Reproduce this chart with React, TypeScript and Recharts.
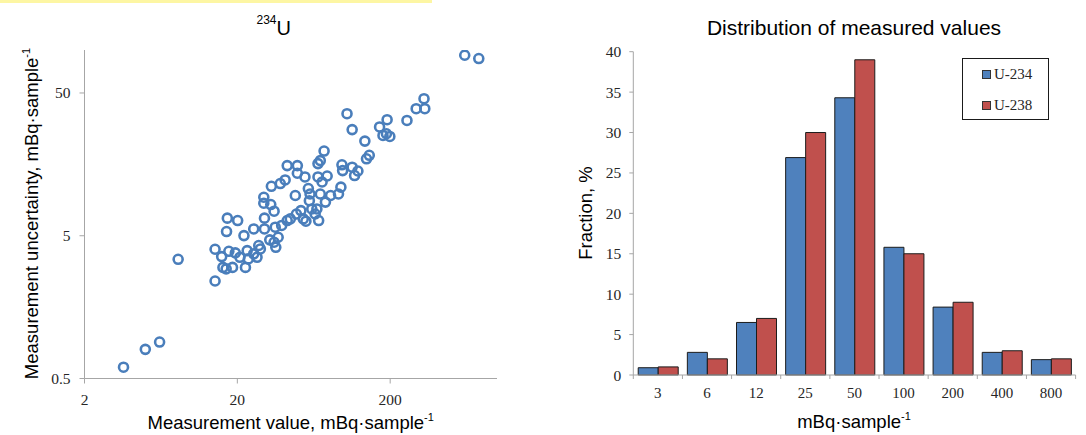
import { ScatterChart, Scatter, XAxis, YAxis, BarChart, Bar, Legend } from 'recharts';

// 234U scatter: measurement value vs. uncertainty (mBq per sample)
const measuredValues = [
  3.6, 5.0, 6.2, 8.2, 14.3, 14.3, 15.8, 16.1, 16.9, 18.6,
  17.6, 19.4, 20.8, 22.6, 23.2, 23.6, 25.6, 27.6, 26.9, 28.3,
  17.0, 17.2, 20.1, 22.1, 25.6, 30.1, 30.1, 29.8, 29.8, 33.1,
  34.8, 33.4, 32.6, 34.8, 35.7, 37.0, 35.4, 39.0, 42.4, 44.4,
  38.2, 41.1, 42.4, 49.4, 49.4, 47.9, 48.7, 54.0, 56.2, 52.1,
  55.4, 58.3, 59.8, 59.2, 61.4, 64.6, 68.1, 67.4, 69.8, 73.9,
  67.4, 71.7, 77.4, 69.8, 75.4, 81.5, 66.3, 91.8, 95.2, 96.7,
  97.7, 112.8, 117, 123, 104.4, 112.8, 136.6, 140, 146, 170.5,
  179.5, 191, 199, 189, 257.6, 296, 333, 337, 615, 760,
];
const uncertainties = [
  0.6, 0.8, 0.9, 3.42, 2.41, 4.02, 3.57, 3.0, 2.93, 3.0,
  3.89, 3.79, 3.53, 3.0, 3.93, 3.44, 3.73, 4.27, 3.53, 4.04,
  5.35, 6.64, 6.39, 5.01, 5.58, 6.64, 5.58, 9.3, 8.45, 8.27,
  7.43, 11.1, 4.68, 4.5, 4.15, 4.88, 5.74, 5.9, 6.39, 6.56,
  11.6, 12.3, 15.5, 15.5, 13.7, 9.57, 7.1, 6.56, 6.32, 7.5,
  12.9, 10.7, 9.8, 8.8, 7.7, 7.1, 6.39, 16.0, 16.8, 19.6,
  12.9, 11.9, 13.1, 9.8, 8.6, 9.57, 7.7, 9.8, 10.95, 15.7,
  14.3, 15.1, 13.2, 14.2, 35.8, 27.7, 23.0, 17.3, 18.3, 28.9,
  25.2, 32.5, 24.8, 25.9, 32.1, 38.8, 45.6, 38.8, 91.9, 87.1,
];
const valueTicks = [2, 20, 200];
const uncertaintyTicks = [0.5, 5, 50];

// distribution of measured values, % of samples per bin
const sizeBins = ['3', '6', '12', '25', '50', '100', '200', '400', '800'];
const fractionU234 = [0.9, 2.8, 6.5, 26.9, 34.3, 15.8, 8.4, 2.8, 1.9];
const fractionU238 = [1, 2, 7, 30, 39, 15, 9, 3, 2];
const fractionTicks = [0, 5, 10, 15, 20, 25, 30, 35, 40];

const AXIS = '#a6a6a6';
const TEXT = '#262626';
const SERIF = '"Liberation Serif", "Times New Roman", serif';
const SANS = '"Liberation Sans", Arial, sans-serif';
const BLUE = '#4f81bd';
const RED = '#c0504d';

const scatterData = measuredValues.map((x, i) => ({ x, y: uncertainties[i] }));
const barData = sizeBins.map((bin, i) => ({ bin, u234: fractionU234[i], u238: fractionU238[i] }));

const tickStyle = { fill: TEXT, fontSize: 15.5, fontFamily: SERIF };

function RingMarker(props: any) {
  return <circle cx={props.cx} cy={props.cy} r={4.5} fill="none" stroke="#4a7ebb" strokeWidth={2.6} />;
}

// category label plus Excel-style tick marks on the bin boundaries
function BinTick(props: any) {
  const { x, y, payload, index } = props;
  const half = payload?.offset ?? 0;
  const axisY = y - 12;
  return (
    <g>
      <line x1={x - half} x2={x - half} y1={axisY} y2={axisY + 4} stroke={AXIS} />
      {index === sizeBins.length - 1 && (
        <line x1={x + half} x2={x + half} y1={axisY} y2={axisY + 4} stroke={AXIS} />
      )}
      <text x={x} y={y} dy="0.71em" textAnchor="middle" fill={TEXT} fontSize={15} fontFamily={SERIF}>
        {payload.value}
      </text>
    </g>
  );
}

function LegendBox({ payload }: any) {
  return (
    <div
      style={{
        width: 87, height: 62, boxSizing: 'border-box', border: '1.3px solid #1a1a1a',
        background: '#fff', padding: '0 0 0 19px',
      }}
    >
      {(payload || []).map((entry: any) => (
        <div key={entry.value} style={{ height: 31, display: 'flex', alignItems: 'center' }}>
          <span
            style={{
              width: 7, height: 7, background: entry.payload?.fill ?? entry.color,
              border: '0.8px solid #333', marginRight: 3, display: 'inline-block',
            }}
          />
          <span style={{ fontFamily: SERIF, fontSize: 15, color: TEXT }}>{entry.value}</span>
        </div>
      ))}
    </div>
  );
}

export default function App() {
  return (
    <div style={{ position: 'absolute', left: 0, top: 0, width: 1086, height: 435, background: '#fff' }}>
      <div style={{ position: 'absolute', left: 0, top: 0, width: 432, height: 2.5, background: '#fdf6a3' }} />

      <div style={{ position: 'absolute', left: 0, top: 0 }}>
        <ScatterChart width={540} height={435} margin={{ top: 50, right: 43, bottom: 26.5, left: 0 }}>
          <XAxis
            type="number"
            dataKey="x"
            scale="log"
            domain={[2, 1000]}
            ticks={valueTicks}
            allowDataOverflow
            height={30}
            stroke={AXIS}
            tickSize={5}
            tickMargin={10}
            tick={tickStyle}
            tickFormatter={(v: number) => String(v)}
          />
          <YAxis
            type="number"
            dataKey="y"
            scale="log"
            domain={[0.5, 100]}
            ticks={uncertaintyTicks}
            allowDataOverflow
            width={84.5}
            stroke={AXIS}
            tickSize={5}
            tickMargin={9}
            tick={tickStyle}
            tickFormatter={(v: number) => String(v)}
          />
          <Scatter data={scatterData} shape={RingMarker} isAnimationActive={false} />
        </ScatterChart>
      </div>

      <div style={{ position: 'absolute', left: 540, top: 0 }}>
        <BarChart
          width={546}
          height={435}
          data={barData}
          margin={{ top: 51.7, right: 10.4, bottom: 30, left: 0 }}
          barCategoryGap="10%"
          barGap={0}
        >
          <XAxis
            dataKey="bin"
            height={30}
            stroke={AXIS}
            tickLine={false}
            tickSize={4}
            tickMargin={8}
            tick={<BinTick />}
            interval={0}
          />
          <YAxis
            domain={[0, 40]}
            ticks={fractionTicks}
            width={93.3}
            stroke={AXIS}
            tickSize={4}
            tickMargin={8}
            tick={tickStyle}
          />
          <Legend
            layout="vertical"
            align="center"
            verticalAlign="middle"
            wrapperStyle={{ left: 422, top: 58, width: 87, height: 62 }}
            content={(props: any) => <LegendBox payload={props.payload} />}
          />
          <Bar dataKey="u234" name="U-234" fill={BLUE} stroke="#1c1c1c" strokeWidth={1} isAnimationActive={false} />
          <Bar dataKey="u238" name="U-238" fill={RED} stroke="#1c1c1c" strokeWidth={1} isAnimationActive={false} />
        </BarChart>
      </div>

      <svg
        width={1086}
        height={435}
        style={{ position: 'absolute', left: 0, top: 0, pointerEvents: 'none' }}
        fontFamily={SANS}
        fill="#000"
      >
        <text x={256.5} y={35} fontSize={20}>
          <tspan fontSize={12} dy={-11.5}>234</tspan>
          <tspan dy={11.5}>U</tspan>
        </text>
        <text x={854} y={35} fontSize={21} textAnchor="middle">Distribution of measured values</text>

        <text x={290.7} y={429} fontSize={18.5} textAnchor="middle">
          Measurement value, mBq·sample<tspan fontSize={11} dy={-8}>-1</tspan>
        </text>
        <text x={38} y={213.5} fontSize={18.5} textAnchor="middle" transform="rotate(-90 38 213.5)">
          Measurement uncertainty, mBq·sample<tspan fontSize={11} dy={-8}>-1</tspan>
        </text>

        <text x={854} y={428} fontSize={18.5} textAnchor="middle">
          mBq·sample<tspan fontSize={11} dy={-8}>-1</tspan>
        </text>
        <text x={592} y={213} fontSize={18.5} textAnchor="middle" transform="rotate(-90 592 213)">
          Fraction, %
        </text>
      </svg>
    </div>
  );
}
